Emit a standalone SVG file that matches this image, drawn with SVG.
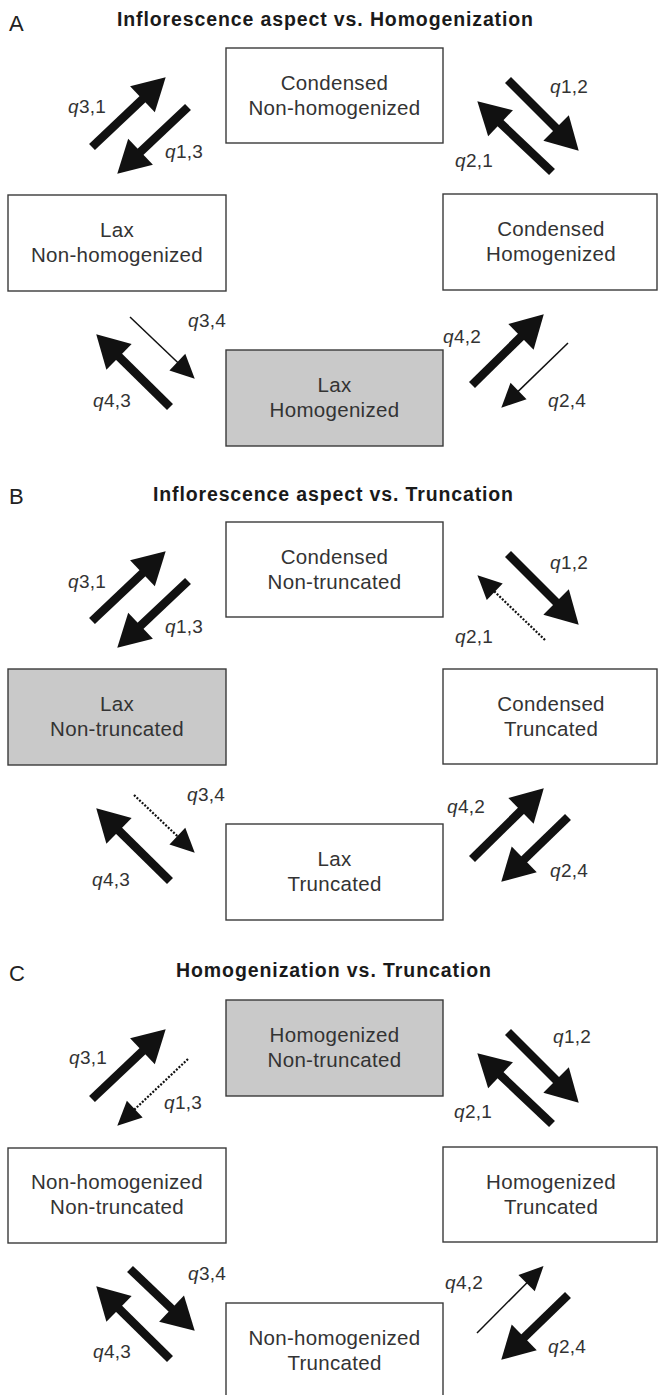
<svg xmlns="http://www.w3.org/2000/svg" width="658" height="1395" viewBox="0 0 658 1395">
<defs>
<marker id="hThick" markerUnits="userSpaceOnUse" markerWidth="36" markerHeight="38" refX="0" refY="0" orient="auto" overflow="visible"><path d="M-2,-18 L30,0 L-2,18 Z" fill="#111"/></marker>
<marker id="hThin" markerUnits="userSpaceOnUse" markerWidth="26" markerHeight="26" refX="0" refY="0" orient="auto" overflow="visible"><path d="M-2,-11.5 L22,0 L-2,11.5 Z" fill="#111"/></marker>
</defs>
<style>
.box{fill:#fff;stroke:#3a3a3a;stroke-width:1.4}
.hl{fill:#c9c9c9}
.nt{font-family:"Liberation Sans",Arial,sans-serif;font-size:20.5px;fill:#333;text-anchor:middle;letter-spacing:0.3px}
.ql{font-family:"Liberation Sans",Arial,sans-serif;font-size:19px;fill:#333;letter-spacing:0.3px}
.ql tspan{font-style:italic}
.title{font-family:"Liberation Sans",Arial,sans-serif;font-size:19.5px;font-weight:bold;fill:#1a1a1a}
.pl{font-family:"Liberation Sans",Arial,sans-serif;font-size:22px;fill:#222}
.thick{stroke:#111;stroke-width:8.5;fill:none;marker-end:url(#hThick)}
.thin{stroke:#111;stroke-width:1.5;fill:none;marker-end:url(#hThin)}
.dot{stroke:#111;stroke-width:2.2;stroke-dasharray:2 1.6;fill:none;marker-end:url(#hThin)}
</style>
<rect width="658" height="1395" fill="#fff"/>

<!-- Panel A -->
<text class="pl" x="9" y="31">A</text>
<text class="title" x="117" y="26" textLength="416" lengthAdjust="spacing">Inflorescence aspect vs. Homogenization</text>
<g id="A-n1"><rect class="box" x="226" y="48" width="217" height="95"/><text class="nt" x="334.5" y="90">Condensed</text><text class="nt" x="334.5" y="115">Non-homogenized</text></g>
<g id="A-n3"><rect class="box" x="8" y="195" width="218" height="96"/><text class="nt" x="117" y="237">Lax</text><text class="nt" x="117" y="262">Non-homogenized</text></g>
<g id="A-n2"><rect class="box" x="443" y="194" width="214" height="96"/><text class="nt" x="551" y="236">Condensed</text><text class="nt" x="551" y="261">Homogenized</text></g>
<g id="A-n4"><rect class="box hl" x="226" y="350" width="217" height="96"/><text class="nt" x="334.5" y="392">Lax</text><text class="nt" x="334.5" y="417">Homogenized</text></g>
<g id="A-connectors">
<line class="thick" x1="92" y1="147" x2="143.9" y2="97.9"/>
<line class="thick" x1="188" y1="107" x2="139.1" y2="153.1"/>
<line class="thick" x1="508" y1="80" x2="557.5" y2="129.5"/>
<line class="thick" x1="552" y1="172" x2="499.1" y2="121.9"/>
<line class="thin" x1="130" y1="317" x2="178.8" y2="363.5"/>
<line class="thick" x1="170" y1="407" x2="117.6" y2="355.4"/>
<line class="thick" x1="472" y1="385" x2="522.4" y2="335.4"/>
<line class="thin" x1="568" y1="343" x2="517.1" y2="392.4"/>
<text class="ql" x="68" y="113"><tspan>q</tspan>3,1</text>
<text class="ql" x="165" y="158"><tspan>q</tspan>1,3</text>
<text class="ql" x="550" y="93"><tspan>q</tspan>1,2</text>
<text class="ql" x="455" y="167"><tspan>q</tspan>2,1</text>
<text class="ql" x="188" y="327"><tspan>q</tspan>3,4</text>
<text class="ql" x="93" y="407"><tspan>q</tspan>4,3</text>
<text class="ql" x="443" y="343"><tspan>q</tspan>4,2</text>
<text class="ql" x="548" y="407"><tspan>q</tspan>2,4</text>
</g>

<!-- Panel B -->
<text class="pl" x="9" y="504">B</text>
<text class="title" x="153" y="501" textLength="360" lengthAdjust="spacing">Inflorescence aspect vs. Truncation</text>
<g id="B-n1"><rect class="box" x="226" y="522" width="217" height="95"/><text class="nt" x="334.5" y="564">Condensed</text><text class="nt" x="334.5" y="589">Non-truncated</text></g>
<g id="B-n3"><rect class="box hl" x="8" y="669" width="218" height="96"/><text class="nt" x="117" y="711">Lax</text><text class="nt" x="117" y="736">Non-truncated</text></g>
<g id="B-n2"><rect class="box" x="443" y="669" width="214" height="95"/><text class="nt" x="551" y="711">Condensed</text><text class="nt" x="551" y="736">Truncated</text></g>
<g id="B-n4"><rect class="box" x="226" y="824" width="217" height="96"/><text class="nt" x="334.5" y="866">Lax</text><text class="nt" x="334.5" y="891">Truncated</text></g>
<g id="B-connectors">
<g transform="translate(0,474)">
<line class="thick" x1="92" y1="147" x2="143.9" y2="97.9"/>
<line class="thick" x1="188" y1="107" x2="139.1" y2="153.1"/>
<line class="thick" x1="508" y1="80" x2="557.5" y2="129.5"/>
<line class="dot" x1="545" y1="166" x2="493.3" y2="116.4"/>
<line class="dot" x1="134" y1="321" x2="178.8" y2="363.5"/>
<line class="thick" x1="170" y1="407" x2="117.6" y2="355.4"/>
<line class="thick" x1="472" y1="385" x2="522.4" y2="335.4"/>
<line class="thick" x1="568" y1="343" x2="522.8" y2="386.8"/>
</g>
<text class="ql" x="68" y="588"><tspan>q</tspan>3,1</text>
<text class="ql" x="165" y="633"><tspan>q</tspan>1,3</text>
<text class="ql" x="550" y="569"><tspan>q</tspan>1,2</text>
<text class="ql" x="455" y="643"><tspan>q</tspan>2,1</text>
<text class="ql" x="187" y="801"><tspan>q</tspan>3,4</text>
<text class="ql" x="92" y="886"><tspan>q</tspan>4,3</text>
<text class="ql" x="447" y="813"><tspan>q</tspan>4,2</text>
<text class="ql" x="550" y="877"><tspan>q</tspan>2,4</text>
</g>

<!-- Panel C -->
<text class="pl" x="9" y="981">C</text>
<text class="title" x="176" y="977" textLength="315" lengthAdjust="spacing">Homogenization vs. Truncation</text>
<g id="C-n1"><rect class="box hl" x="226" y="1000" width="217" height="96"/><text class="nt" x="334.5" y="1042">Homogenized</text><text class="nt" x="334.5" y="1067">Non-truncated</text></g>
<g id="C-n3"><rect class="box" x="8" y="1148" width="218" height="95"/><text class="nt" x="117" y="1189">Non-homogenized</text><text class="nt" x="117" y="1214">Non-truncated</text></g>
<g id="C-n2"><rect class="box" x="443" y="1147" width="214" height="95"/><text class="nt" x="551" y="1189">Homogenized</text><text class="nt" x="551" y="1214">Truncated</text></g>
<g id="C-n4"><rect class="box" x="226" y="1303" width="217" height="96"/><text class="nt" x="334.5" y="1345">Non-homogenized</text><text class="nt" x="334.5" y="1370">Truncated</text></g>
<g id="C-connectors">
<g transform="translate(0,952)">
<line class="thick" x1="92" y1="147" x2="143.9" y2="97.9"/>
<line class="dot" x1="188" y1="107" x2="133.3" y2="158.6"/>
<line class="thick" x1="508" y1="80" x2="557.5" y2="129.5"/>
<line class="thick" x1="552" y1="172" x2="499.1" y2="121.9"/>
<line class="thick" x1="130" y1="317" x2="173.0" y2="358.0"/>
<line class="thick" x1="170" y1="407" x2="117.6" y2="355.4"/>
<line class="thin" x1="477" y1="381" x2="528.0" y2="329.7"/>
<line class="thick" x1="568" y1="343" x2="522.8" y2="386.8"/>
</g>
<text class="ql" x="69" y="1064"><tspan>q</tspan>3,1</text>
<text class="ql" x="164" y="1109"><tspan>q</tspan>1,3</text>
<text class="ql" x="553" y="1043"><tspan>q</tspan>1,2</text>
<text class="ql" x="454" y="1118"><tspan>q</tspan>2,1</text>
<text class="ql" x="188" y="1280"><tspan>q</tspan>3,4</text>
<text class="ql" x="93" y="1358"><tspan>q</tspan>4,3</text>
<text class="ql" x="445" y="1289"><tspan>q</tspan>4,2</text>
<text class="ql" x="548" y="1353"><tspan>q</tspan>2,4</text>
</g>
</svg>
